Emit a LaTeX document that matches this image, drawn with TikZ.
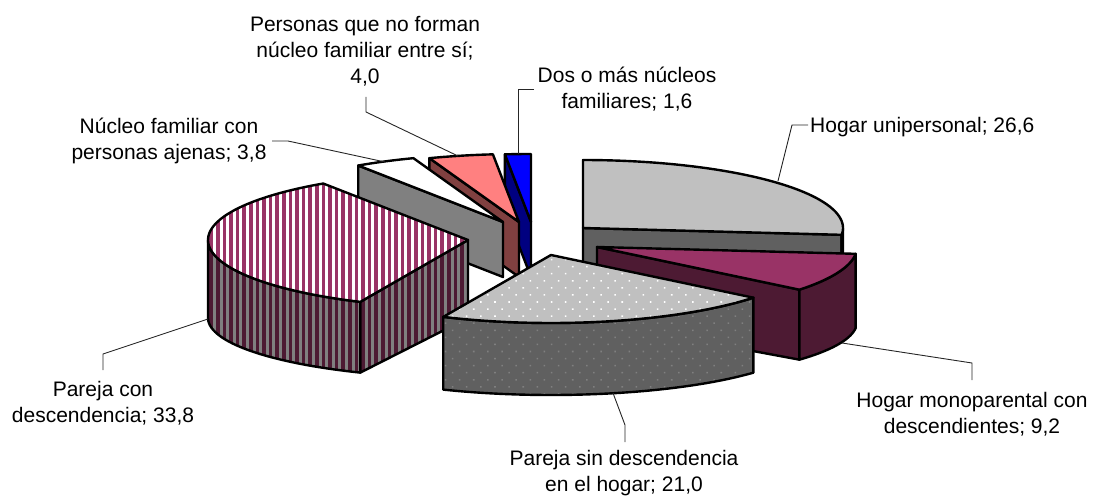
\documentclass[tikz,border=0pt]{standalone}
\usepackage{fontspec}
\setmainfont{Liberation Sans}
\usetikzlibrary{patterns.meta}
\definecolor{plum}{HTML}{993366}
\definecolor{plumdark}{HTML}{4D1A33}
\definecolor{silver}{HTML}{C0C0C0}
\definecolor{sidegray}{HTML}{606060}
\definecolor{midgray}{HTML}{808080}
\definecolor{salmon}{HTML}{FF8080}
\definecolor{brownish}{HTML}{804040}
\definecolor{blueD}{HTML}{0000FF}
\definecolor{navyD}{HTML}{000080}
\begin{document}
\begin{tikzpicture}[x=1pt,y=-1pt,
  face/.style={draw=black,line width=2.4pt,line join=round},
  stripetop/.style={face,preaction={fill=white},pattern={Lines[angle=90,distance=6.6pt,line width=3.6pt]},pattern color=plum},
  stripeside/.style={face,preaction={fill=midgray},pattern={Lines[angle=90,distance=6.6pt,line width=3.6pt]},pattern color=plumdark},
  dottop/.style={face,preaction={fill=silver},pattern={Dots[distance=10pt,angle=45,radius=1.1pt]},pattern color=white},
  dotside/.style={face,preaction={fill=sidegray},pattern={Dots[distance=10pt,angle=45,radius=1.1pt]},pattern color=midgray},
  lbl/.style={align=center,inner sep=0pt,font=\fontsize{21}{26}\selectfont},
  leader/.style={draw=black!85,line width=0.9pt}
]
\useasboundingbox (0,0) rectangle (1104,500);

% ---------- Dos o mas nucleos (back) ----------
\path[face,fill=navyD] (531,222) -- ({531+260*sin(354.24)},{222-68*cos(354.24)}) -- ({531+260*sin(354.24)},{277-68*cos(354.24)}) -- (531,277) -- cycle;
\path[face,fill=blueD] (531,222) -- plot[variable=\t,domain=354.24:360,samples=6]({531+260*sin(\t)},{222-68*cos(\t)}) -- cycle;

% ---------- Personas que no forman nucleo ----------
\path[face,fill=brownish] (519,222) -- ({519+260*sin(339.84)},{222-68*cos(339.84)}) -- ({519+260*sin(339.84)},{277-68*cos(339.84)}) -- (519,277) -- cycle;
\path[face,fill=salmon] (519,222) -- plot[variable=\t,domain=339.84:354.24,samples=10]({519+260*sin(\t)},{222-68*cos(\t)}) -- cycle;

% ---------- Nucleo con personas ajenas ----------
\path[face,fill=midgray] (503,222) -- ({503+260*sin(326.16)},{222-68*cos(326.16)}) -- ({503+260*sin(326.16)},{277-68*cos(326.16)}) -- (503,277) -- cycle;
\path[face,fill=white] (503,222) -- plot[variable=\t,domain=326.16:339.84,samples=10]({503+260*sin(\t)},{222-68*cos(\t)}) -- cycle;

% ---------- Hogar unipersonal ----------
\path[face,fill=sidegray] (583,228) -- ({583+260*sin(95.76)},{228-68*cos(95.76)}) -- ({583+260*sin(95.76)},{283-68*cos(95.76)}) -- (583,283) -- cycle;
\path[face,fill=sidegray] plot[variable=\t,domain=90:95.76,samples=5]({583+260*sin(\t)},{228-68*cos(\t)}) -- plot[variable=\t,domain=95.76:90,samples=5]({583+260*sin(\t)},{283-68*cos(\t)}) -- cycle;
\path[face,fill=silver] (583,228) -- plot[variable=\t,domain=0:95.76,samples=60]({583+260*sin(\t)},{228-68*cos(\t)}) -- cycle;

% ---------- Pareja con descendencia ----------
\path[stripeside] (468,240) -- ({468+260*sin(204.48)},{240-68*cos(204.48)}) -- ({468+260*sin(204.48)},{318-60*cos(204.48)}) -- (468,318) -- cycle;
\path[stripeside] plot[variable=\t,domain=204.48:270,samples=40]({468+260*sin(\t)},{240-68*cos(\t)}) -- plot[variable=\t,domain=270:204.48,samples=40]({468+260*sin(\t)},{318-60*cos(\t)}) -- cycle;
\path[stripetop] (468,240) -- plot[variable=\t,domain=204.48:326.16,samples=70]({468+260*sin(\t)},{240-68*cos(\t)}) -- cycle;

% ---------- Hogar monoparental ----------
\path[face,fill=plumdark] (597,247) -- ({597+260*sin(128.88)},{247-68*cos(128.88)}) -- ({597+260*sin(128.88)},{322-60*cos(128.88)}) -- (597,322) -- cycle;
\path[face,fill=plumdark] plot[variable=\t,domain=95.76:128.88,samples=25]({597+260*sin(\t)},{247-68*cos(\t)}) -- plot[variable=\t,domain=128.88:95.76,samples=25]({597+260*sin(\t)},{322-60*cos(\t)}) -- cycle;
\path[face,fill=plum] (597,247) -- plot[variable=\t,domain=95.76:128.88,samples=25]({597+260*sin(\t)},{247-68*cos(\t)}) -- cycle;

% ---------- Pareja sin descendencia (front) ----------
\path[dotside] plot[variable=\t,domain=128.88:204.48,samples=50]({551+260*sin(\t)},{255-68*cos(\t)}) -- plot[variable=\t,domain=204.48:128.88,samples=50]({551+260*sin(\t)},{335-60*cos(\t)}) -- cycle;
\path[dottop] (551,255) -- plot[variable=\t,domain=128.88:204.48,samples=50]({551+260*sin(\t)},{255-68*cos(\t)}) -- cycle;

% ---------- Labels ----------
\node[lbl] (Lpers) at (365,51) {Personas que no forman\\núcleo familiar entre sí;\\4,0};
\node[lbl] (Ldos) at (627,89) {Dos o más núcleos\\familiares; 1,6};
\node[lbl,anchor=base west] (Luni) at (810,133) {Hogar unipersonal; 26,6};
\node[lbl] (Laje) at (169,140.5) {Núcleo familiar con\\personas ajenas; 3,8};
\node[lbl] (Lcd) at (103,403) {Pareja con\\descendencia; 33,8};
\node[lbl] (Lsd) at (624,473.5) {Pareja sin descendencia\\en el hogar; 21,0};
\node[lbl] (Lmono) at (972,414) {Hogar monoparental con\\descendientes; 9,2};

% ---------- Leader points ----------
\coordinate (persA) at (366,97);  \coordinate (persB) at (366,112); \coordinate (persC) at (458,156);
\coordinate (dosA) at (534,89);   \coordinate (dosB) at (518,89);   \coordinate (dosC) at (518,154);
\coordinate (uniA) at (808,125);  \coordinate (uniB) at (792,125);  \coordinate (uniC) at (778,181);
\coordinate (ajeA) at (272,141);  \coordinate (ajeB) at (288,141);  \coordinate (ajeC) at (385,162);
\coordinate (cdA) at (103,370);   \coordinate (cdB) at (103,354);   \coordinate (cdC) at (208,319);
\coordinate (sdA) at (625,442);   \coordinate (sdB) at (625,425);   \coordinate (sdC) at (613,393);
\coordinate (monoA) at (972,380); \coordinate (monoB) at (972,363); \coordinate (monoC) at (842,343);

\draw[leader] (persA) -- (persB) -- (persC);
\draw[leader] (dosA) -- (dosB) -- (dosC);
\draw[leader] (uniA) -- (uniB) -- (uniC);
\draw[leader] (ajeA) -- (ajeB) -- (ajeC);
\draw[leader] (cdA) -- (cdB) -- (cdC);
\draw[leader] (sdA) -- (sdB) -- (sdC);
\draw[leader] (monoA) -- (monoB) -- (monoC);
\end{tikzpicture}
\end{document}
